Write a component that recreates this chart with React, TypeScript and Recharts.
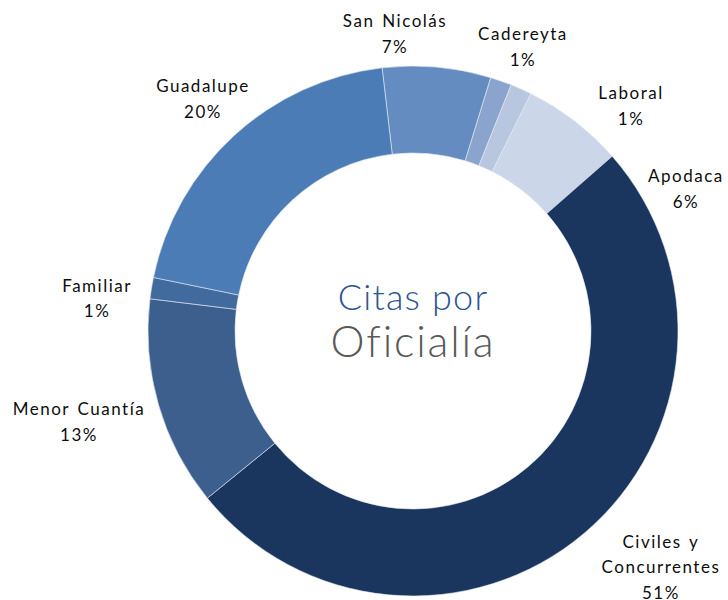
import { Cell, Pie, PieChart } from "recharts";

// Citas por oficialía — shares
const OFICIALIAS = [
  "San Nicolás",
  "Cadereyta",
  "Laboral",
  "Apodaca",
  "Civiles y Concurrentes",
  "Menor Cuantía",
  "Familiar",
  "Guadalupe",
];
const CITAS = [6.6, 1.3, 1.3, 6.2, 50.6, 12.8, 1.3, 19.9];

const COLORS = [
  "#648cc1",
  "#8aa4cd",
  "#b9c6e0",
  "#ccd6e9",
  "#1b365e",
  "#3c5f8e",
  "#416a9e",
  "#4c7cb6",
];

// label lines (name split) and nudges: [angle offset deg, radius px]
const LABEL_LINES = [
  ["San Nicolás"],
  ["Cadereyta"],
  ["Laboral"],
  ["Apodaca"],
  ["Civiles y", "Concurrentes"],
  ["Menor Cuantía"],
  ["Familiar"],
  ["Guadalupe"],
];
const LABEL_NUDGE: [number, number][] = [
  [-8.64, 298.5],
  [1.7, 305.5],
  [19.9, 314],
  [24.8, 308],
  [-6.34, 341.7],
  [1.0, 345.9],
  [-3.3, 317.7],
  [0.5, 313.7],
];

const data = OFICIALIAS.map((name, i) => ({ name, value: CITAS[i] }));

const FONT = "Lato, 'Open Sans', sans-serif";

function renderLabel(props: any) {
  const { cx, cy, midAngle, percent, index } = props;
  const [da, dist] = LABEL_NUDGE[index];
  const a = ((90 - midAngle + da) * Math.PI) / 180;
  const x = cx + dist * Math.sin(a);
  const y = cy - dist * Math.cos(a);
  const lines = [...LABEL_LINES[index], `${Math.round(percent * 100)}%`];
  const lh = 25.5;
  const top = y - ((lines.length - 1) * lh) / 2;
  return (
    <text
      key={`lbl-${index}`}
      x={x}
      y={top}
      textAnchor="middle"
      dominantBaseline="central"
      fill="#0d0d0d"
      style={{ fontFamily: FONT, fontSize: 17, letterSpacing: 1.5, wordSpacing: 2 }}
    >
      {lines.map((t, i) => (
        <tspan key={i} x={x} y={top + i * lh}>
          {t}
        </tspan>
      ))}
    </text>
  );
}

export default function App() {
  return (
    <div style={{ position: "absolute", left: 0, top: 0, width: 728, height: 600, background: "#fff" }}>
      <PieChart width={728} height={600} margin={{ top: 0, right: 0, bottom: 0, left: 0 }}>
        <Pie
          data={data}
          dataKey="value"
          nameKey="name"
          cx={413}
          cy={331}
          innerRadius={178}
          outerRadius={265}
          startAngle={96.7}
          endAngle={-263.3}
          stroke="#e4eaf3"
          strokeWidth={0.6}
          label={renderLabel}
          labelLine={false}
          isAnimationActive={false}
        >
          {data.map((d, i) => (
            <Cell key={d.name} fill={COLORS[i]} />
          ))}
        </Pie>
        <text
          x={413}
          y={310}
          textAnchor="middle"
          fill="#2b5591"
          style={{ fontFamily: FONT, fontSize: 36, fontWeight: 300, letterSpacing: 1.2 }}
        >
          Citas por
        </text>
        <text
          x={413}
          y={357}
          textAnchor="middle"
          fill="#595959"
          style={{ fontFamily: FONT, fontSize: 43, fontWeight: 300, letterSpacing: 1.8 }}
        >
          Oficialía
        </text>
      </PieChart>
    </div>
  );
}
